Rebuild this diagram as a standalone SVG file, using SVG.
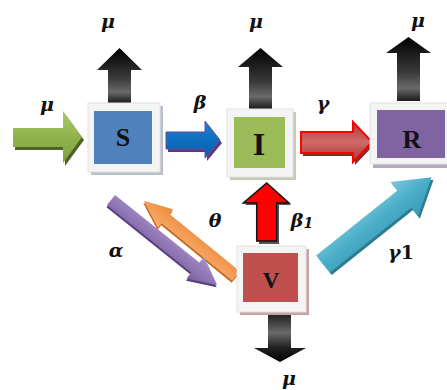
<svg xmlns="http://www.w3.org/2000/svg" width="447" height="390" viewBox="0 0 447 390">
  <defs>
    <linearGradient id="gBlackV" x1="0" y1="0" x2="0" y2="1">
      <stop offset="0" stop-color="#000"/>
      <stop offset="0.55" stop-color="#3a3a3a"/>
      <stop offset="0.8" stop-color="#6a6a6a"/>
      <stop offset="1" stop-color="#1a1a1a"/>
    </linearGradient>
    <linearGradient id="gBlackD" x1="0" y1="0" x2="0" y2="1">
      <stop offset="0" stop-color="#1a1a1a"/>
      <stop offset="0.4" stop-color="#6a6a6a"/>
      <stop offset="0.7" stop-color="#222"/>
      <stop offset="1" stop-color="#000"/>
    </linearGradient>
    <linearGradient id="gGreen" x1="0" y1="0" x2="0" y2="1">
      <stop offset="0" stop-color="#a9c96c"/>
      <stop offset="0.5" stop-color="#8fb34c"/>
      <stop offset="1" stop-color="#7ea23f"/>
    </linearGradient>
    <linearGradient id="gBlue" x1="0" y1="0" x2="0" y2="1">
      <stop offset="0" stop-color="#1f7fd0"/>
      <stop offset="1" stop-color="#0060b0"/>
    </linearGradient>
    <linearGradient id="gRed" x1="0" y1="0" x2="0" y2="1">
      <stop offset="0" stop-color="#b23a38"/>
      <stop offset="0.5" stop-color="#d06a68"/>
      <stop offset="1" stop-color="#a83634"/>
    </linearGradient>
    <linearGradient id="gCyan" x1="0" y1="0" x2="0" y2="1">
      <stop offset="0" stop-color="#7cc6dc"/>
      <stop offset="0.5" stop-color="#4aaec8"/>
      <stop offset="1" stop-color="#3c9ab4"/>
    </linearGradient>
    <linearGradient id="gPurple" x1="0" y1="0" x2="0" y2="1">
      <stop offset="0" stop-color="#a892cc"/>
      <stop offset="1" stop-color="#7a5fa0"/>
    </linearGradient>
    <linearGradient id="gOrange" x1="0" y1="0" x2="0" y2="1">
      <stop offset="0" stop-color="#f9ad70"/>
      <stop offset="1" stop-color="#ec8a3a"/>
    </linearGradient>
  </defs>
  <style>
    .frame { fill: #f4f4f4; stroke: #e2e2e2; stroke-width: 1; }
    .box-label { font-family: "Liberation Serif", "Times New Roman", serif; font-weight: bold; text-anchor: middle; fill: #111; }
    .rate { font-family: "DejaVu Serif", "Liberation Serif", serif; font-weight: bold; font-style: italic; font-size: 19px; text-anchor: middle; fill: #111; }
    .sub { font-size: 14px; }
  </style>

  <rect width="447" height="390" fill="#fff"/>

  <!-- connectors: flow arrows between compartments -->
  <g id="connectors">
    <!-- births into S -->
    <polygon points="15,131 65,131 65,114 84,140 65,166 65,150 15,150" fill="#4f6228"/>
    <polygon points="13,128 63,128 63,111 82,137 63,163 63,147 13,147" fill="url(#gGreen)"/>

    <!-- S to I (infection) -->
    <polygon points="168,135 207,135 207,124 222,143 207,161 207,152 168,152" fill="#5b3c82"/>
    <polygon points="166,132 205,132 205,121 220,140 205,158 205,149 166,149" fill="url(#gBlue)" stroke="#6b4c98" stroke-width="1"/>

    <!-- I to R (recovery) -->
    <polygon points="303,135 355,135 355,125 374,145 355,165 355,156 303,156" fill="#8a2a28"/>
    <polygon points="301,132 353,132 353,122 372,142 353,162 353,153 301,153" fill="url(#gRed)" stroke="#ff0000" stroke-width="2" stroke-linejoin="miter"/>

    <!-- deaths: S, I, R upward, V downward -->
    <polygon points="119.5,48 142,70 131,70 131,103 108,103 108,70 97,70" fill="url(#gBlackV)"/>
    <polygon points="260.5,48 283,67 272,67 272,109 249,109 249,67 238,67" fill="url(#gBlackV)"/>
    <polygon points="408.5,37 431,53 420,53 420,101 397,101 397,53 386,53" fill="url(#gBlackV)"/>
    <polygon points="268,313 291,313 291,348 306,348 280,362 254,348 268,348" fill="url(#gBlackD)"/>

    <!-- V to I -->
    <polygon points="269,185 291,205 279,205 279,244 259,244 259,205 245,205" fill="#555"/>
    <polygon points="266.7,183 289,203 276.7,203 276.7,241 256.7,241 256.7,203 243.3,203" fill="#ff0000" stroke="#111" stroke-width="1.5" stroke-linejoin="miter"/>

    <!-- V to S (waning, theta), drawn beneath alpha -->
    <g transform="translate(236,276) rotate(-140.8)">
      <polygon points="0,-6 91,-6 91,-12 119,0 91,12 91,6 0,6" fill="#c46a22" transform="translate(-1,-2)"/>
      <polygon points="0,-6 91,-6 91,-12 119,0 91,12 91,6 0,6" fill="url(#gOrange)"/>
    </g>

    <!-- S to V (vaccination, alpha) -->
    <g transform="translate(111,200) rotate(38.7)">
      <polygon points="0,-6.5 108,-6.5 108,-14 136,0 108,14 108,6.5 0,6.5" fill="#5a4280" transform="translate(1,2)"/>
      <polygon points="0,-6.5 108,-6.5 108,-14 136,0 108,14 108,6.5 0,6.5" fill="url(#gPurple)"/>
    </g>

    <!-- V to R (gamma1) -->
    <g transform="translate(323,264) rotate(-38.6)">
      <polygon points="0,-11 104,-11 104,-22 139,0 104,22 104,11 0,11" fill="#2c7c93" transform="translate(0,3)"/>
      <polygon points="0,-11 104,-11 104,-22 139,0 104,22 104,11 0,11" fill="url(#gCyan)"/>
    </g>
  </g>

  <!-- compartment S -->
  <g id="node-S">
    <rect x="91" y="106" width="72" height="69" fill="#b9bfcc"/>
    <rect class="frame" x="88" y="103" width="72" height="69"/>
    <rect x="94" y="111" width="58" height="53" fill="#4f81bd"/>
    <text class="box-label" x="123" y="146" font-size="26">S</text>
  </g>

  <!-- compartment I -->
  <g id="node-I">
    <rect x="230" y="112" width="66" height="68" fill="#c3cbb0"/>
    <rect class="frame" x="227" y="109" width="66" height="68"/>
    <rect x="234" y="117" width="51" height="51" fill="#9bbb59"/>
    <text class="box-label" x="259" y="155" font-size="32">I</text>
  </g>

  <!-- compartment R -->
  <g id="node-R">
    <rect x="373" y="106" width="80" height="62" fill="#b3aac2"/>
    <rect class="frame" x="370" y="103" width="80" height="61"/>
    <rect x="377" y="110" width="68" height="48" fill="#8064a2"/>
    <text class="box-label" x="412" y="148" font-size="26">R</text>
  </g>

  <!-- compartment V -->
  <g id="node-V">
    <rect x="240" y="249" width="69" height="66" fill="#c9a3a3"/>
    <rect class="frame" x="237" y="246" width="69" height="66"/>
    <rect x="243" y="253" width="55" height="49" fill="#c0504d"/>
    <text class="box-label" x="271" y="288" font-size="23">V</text>
  </g>

  <!-- rate labels -->
  <g id="labels">
    <text class="rate" x="108" y="28">μ</text>
    <text class="rate" x="256" y="28">μ</text>
    <text class="rate" x="418" y="27">μ</text>
    <text class="rate" x="47" y="111">μ</text>
    <text class="rate" x="289" y="385">μ</text>
    <text class="rate" x="200" y="109">β</text>
    <text class="rate" x="323" y="110">γ</text>
    <text class="rate" x="116" y="257">α</text>
    <text class="rate" x="215" y="227">θ</text>
    <text class="rate" x="302" y="227">β<tspan class="sub" dy="1">1</tspan></text>
    <text class="rate" x="401" y="259">γ<tspan font-style="normal">1</tspan></text>
  </g>
</svg>
